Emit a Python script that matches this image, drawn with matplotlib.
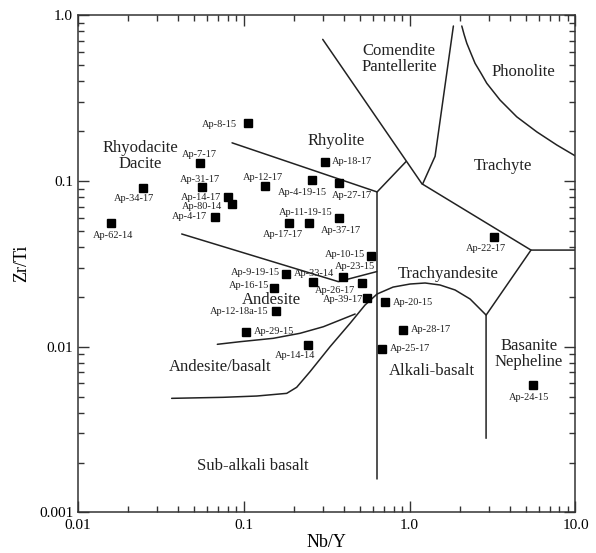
# Nb/Y vs Zr/Ti classification diagram (Winchester & Floyd, modified by Pearce 1996)
import matplotlib
matplotlib.use("Agg")
import matplotlib.pyplot as plt

plt.rcParams['font.family'] = ['Liberation Serif', 'DejaVu Serif']

# sample data
samples = ["Ap-8-15", "Ap-7-17", "Ap-31-17", "Ap-34-17", "Ap-62-14", "Ap-14-17",
           "Ap-80-14", "Ap-4-17", "Ap-12-17", "Ap-18-17", "Ap-4-19-15", "Ap-27-17",
           "Ap-11-19-15", "Ap-17-17", "Ap-37-17", "Ap-10-15", "Ap-23-15", "Ap-9-19-15",
           "Ap-33-14", "Ap-26-17", "Ap-16-15", "Ap-39-17", "Ap-20-15", "Ap-12-18a-15",
           "Ap-29-15", "Ap-14-14", "Ap-28-17", "Ap-25-17", "Ap-22-17", "Ap-24-15"]
nb_y = [0.106, 0.0545, 0.0558, 0.0245, 0.0157, 0.0806,
        0.0845, 0.0671, 0.134, 0.309, 0.257, 0.375,
        0.248, 0.187, 0.377, 0.583, 0.398, 0.180,
        0.260, 0.514, 0.151, 0.556, 0.706, 0.156,
        0.103, 0.243, 0.916, 0.679, 3.23, 5.57]
zr_ti = [0.224, 0.128, 0.0916, 0.0911, 0.0556, 0.0804,
         0.0727, 0.0609, 0.0937, 0.131, 0.101, 0.0969,
         0.0556, 0.0556, 0.0596, 0.0354, 0.0262, 0.0274,
         0.0247, 0.0243, 0.0227, 0.0198, 0.0187, 0.0165,
         0.0123, 0.0103, 0.0127, 0.0097, 0.0457, 0.0059]

# field boundaries (Nb/Y, Zr/Ti)
rhyolite_x = [0.0849, 0.636, 0.951]
rhyolite_y = [0.170, 0.0859, 0.131]
comendite_x = [0.299, 1.19]
comendite_y = [0.716, 0.0957]
trachyte_left_x = [1.835, 1.423, 1.196, 5.39, 10.0]
trachyte_left_y = [0.862, 0.141, 0.0957, 0.0383, 0.0383]
phonolite_x = [2.062, 2.13, 2.211, 2.34, 2.48, 2.70, 2.917, 3.508, 4.424, 5.84, 7.71, 9.94]
phonolite_y = [0.862, 0.765, 0.678, 0.59, 0.513, 0.445, 0.389, 0.308, 0.244, 0.198, 0.165, 0.142]
basanite_x = [5.39, 2.889, 2.889]
basanite_y = [0.0383, 0.0155, 0.0028]
subalk_x = [0.636, 0.636]
subalk_y = [0.0859, 0.0016]
andesite_top_x = [0.0422, 0.3715, 0.633]
andesite_top_y = [0.0479, 0.0247, 0.0284]
andesite_bot_x = [0.0692, 0.0948, 0.1507, 0.2183, 0.3016, 0.469]
andesite_bot_y = [0.01034, 0.01072, 0.01124, 0.01205, 0.0132, 0.01575]
basalt_x = [0.0367, 0.0752, 0.1197, 0.1814, 0.2083, 0.2507, 0.331, 0.437, 0.538,
            0.636, 0.794, 1.006, 1.239, 1.525, 1.878, 2.314, 2.889]
basalt_y = [0.00488, 0.00495, 0.00504, 0.00523, 0.00569, 0.00707, 0.0100, 0.01384,
            0.01785, 0.0208, 0.0229, 0.0239, 0.02424, 0.02357, 0.0220, 0.0194, 0.01553]

# field names
field_names = ["Rhyodacite\nDacite", "Rhyolite", "Comendite\nPantellerite", "Phonolite",
               "Trachyte", "Trachyandesite", "Andesite", "Andesite/basalt",
               "Alkali-basalt", "Basanite\nNepheline", "Sub-alkali basalt"]
field_x = [0.0237, 0.358, 0.863, 4.85, 3.64, 1.71, 0.146, 0.0719, 1.36, 5.25, 0.1136]
field_y = [0.1416, 0.175, 0.545, 0.457, 0.1237, 0.0275, 0.0191, 0.00757, 0.00713,
           0.00904, 0.00191]

# label placement: (dx, dy) in pixels (dy downwards), alignment
label_pos = {
    "Ap-8-15": (-11, 2, 'right'), "Ap-7-17": (-1, -9, 'center'),
    "Ap-31-17": (-2, -8, 'center'), "Ap-34-17": (-9, 11, 'center'),
    "Ap-62-14": (3, 12, 'center'), "Ap-14-17": (-7, 1, 'right'),
    "Ap-80-14": (-10, 3, 'right'), "Ap-4-17": (-8, 0, 'right'),
    "Ap-12-17": (-2, -8, 'center'), "Ap-18-17": (7, 0, 'left'),
    "Ap-4-19-15": (-9, 12, 'center'), "Ap-27-17": (13, 12, 'center'),
    "Ap-11-19-15": (-3, -11, 'center'), "Ap-17-17": (-6, 11, 'center'),
    "Ap-37-17": (2, 12, 'center'), "Ap-10-15": (-6, -1, 'right'),
    "Ap-23-15": (12, -11, 'center'), "Ap-9-19-15": (-6, -2, 'right'),
    "Ap-33-14": (1, -8, 'center'), "Ap-26-17": (-27, 8, 'center'),
    "Ap-16-15": (-4, -2, 'right'), "Ap-39-17": (-4, 2, 'right'),
    "Ap-20-15": (8, 1, 'left'), "Ap-12-18a-15": (-7, 1, 'right'),
    "Ap-29-15": (8, 0, 'left'), "Ap-14-14": (-13, 11, 'center'),
    "Ap-28-17": (8, 0, 'left'), "Ap-25-17": (8, 0, 'left'),
    "Ap-22-17": (-8, 11, 'center'), "Ap-24-15": (-4, 13, 'center'),
}

fig = plt.figure(figsize=(5.96, 5.53), dpi=100)
ax = fig.add_axes([0.1309, 0.0734, 0.8347, 0.8989])
ax.set_xscale('log')
ax.set_yscale('log')
ax.set_xlim(0.01, 10)
ax.set_ylim(0.001, 1)

lines = [(rhyolite_x, rhyolite_y), (comendite_x, comendite_y),
         (trachyte_left_x, trachyte_left_y), (phonolite_x, phonolite_y),
         (basanite_x, basanite_y), (subalk_x, subalk_y),
         (andesite_top_x, andesite_top_y), (andesite_bot_x, andesite_bot_y),
         (basalt_x, basalt_y)]
for lx, ly in lines:
    ax.plot(lx, ly, color='#222222', lw=1.1, solid_capstyle='round')

for name, fx, fy in zip(field_names, field_x, field_y):
    ax.text(fx, fy, name, ha='center', va='center', fontsize=12,
            color='#222222', linespacing=1.05)

ax.plot(nb_y, zr_ti, 's', color='black', ms=6, zorder=3)
for name, x, y in zip(samples, nb_y, zr_ti):
    dx, dy, ha = label_pos[name]
    ax.annotate(name, (x, y), xytext=(dx, -dy), textcoords='offset pixels',
                ha=ha, va='center', fontsize=7.5, color='#222222')

ax.set_xticks([0.01, 0.1, 1, 10], ['0.01', '0.1', '1.0', '10.0'])
ax.set_yticks([0.001, 0.01, 0.1, 1], ['0.001', '0.01', '0.1', '1.0'])
ax.tick_params(which='both', direction='in', top=True, right=True,
               labelsize=11, width=1, color='#333333')
ax.tick_params(which='major', length=8)
ax.tick_params(which='minor', length=4.5)
ax.tick_params(axis='x', pad=5)
for sp in ax.spines.values():
    sp.set_color('#333333')
    sp.set_linewidth(1.1)

ax.set_xlabel('Nb/Y', fontsize=13, labelpad=1)
ax.set_ylabel('Zr/Ti', fontsize=13, labelpad=6)

fig.savefig('out.png', dpi=100)
